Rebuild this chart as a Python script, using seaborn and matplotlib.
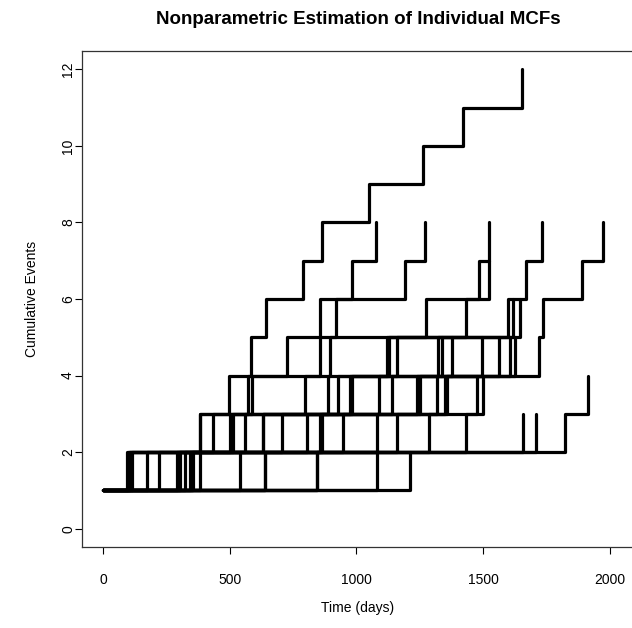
import matplotlib
matplotlib.use("Agg")
import matplotlib.pyplot as plt
import seaborn as sns
import pandas as pd

# Event times (days) for each individual; each event raises the count by 1 (start at 1)
ind_A = [95, 383, 497, 584, 643, 789, 864, 1049, 1262, 1420, 1653]
ind_B = [99, 383, 572, 726, 856, 982, 1077]
ind_C = [103, 434, 588, 856, 919, 1191, 1270]
ind_D = [107, 501, 797, 895, 1274, 1483, 1523]
ind_G = [114, 513, 888, 1120, 1432, 1523]
ind_E = [292, 631, 982, 1322, 1598, 1669, 1732]
ind_F = [383, 1160, 1357, 1720, 1736, 1890, 1972]
ind_H = [174, 560, 927, 1128, 1617]
ind_I = [221, 631, 974, 1160, 1645]
ind_J = [300, 706, 1089, 1337]
ind_K = [304, 805, 1140, 1377]
ind_L = [323, 856, 1239, 1495]
ind_M = [343, 864, 1251, 1562]
ind_N = [351, 947, 1318, 1606]
ind_O = [355, 1081, 1349, 1625]
ind_P = [540, 1286, 1475]
ind_Q = [639, 1432, 1499]
ind_R = [639, 1657]
ind_S = [844, 1708]
ind_T = [844, 1823, 1913]
ind_U = [1211]
ind_V = [1081]

individuals = {
    "A": ind_A, "B": ind_B, "C": ind_C, "D": ind_D, "G": ind_G, "E": ind_E,
    "F": ind_F, "H": ind_H, "I": ind_I, "J": ind_J, "K": ind_K, "L": ind_L,
    "M": ind_M, "N": ind_N, "O": ind_O, "P": ind_P, "Q": ind_Q, "R": ind_R,
    "S": ind_S, "T": ind_T, "U": ind_U, "V": ind_V,
}

x_ticks = [0, 500, 1000, 1500, 2000]
y_ticks = [0, 2, 4, 6, 8, 10, 12]

rows = []
for name, times in individuals.items():
    rows.append({"id": name, "time": 0, "count": 1})
    for k, t in enumerate(times):
        rows.append({"id": name, "time": t, "count": k + 2})
df = pd.DataFrame(rows)

sns.set_style("ticks")
plt.rcParams["font.family"] = ["Liberation Sans", "DejaVu Sans"]
plt.rcParams["text.color"] = "black"
plt.rcParams["axes.labelcolor"] = "black"

W, H = 632, 628
fig = plt.figure(figsize=(W / 100, H / 100), dpi=100)
left, right, top, bottom = 82, 634, 51, 547
ax = fig.add_axes([left / W, (H - bottom) / H, (right - left) / W, (bottom - top) / H])

sns.lineplot(data=df, x="time", y="count", units="id", estimator=None,
             drawstyle="steps-post", color="black", linewidth=2.3, ax=ax,
             legend=False, sort=False)

ax.set_xlim(-83, 2095)
ax.set_ylim(-0.48, 12.48)
ax.set_xticks(x_ticks)
ax.set_yticks(y_ticks)
ax.set_xticklabels([str(v) for v in x_ticks])
ax.set_yticklabels([str(v) for v in y_ticks], rotation=90, va="center")
ax.tick_params(axis="both", direction="out", length=5, width=0.8, labelsize=10,
               colors="black")
ax.tick_params(axis="x", pad=14)
ax.tick_params(axis="y", pad=0)
for s in ax.spines.values():
    s.set_visible(True)
    s.set_linewidth(0.9)
    s.set_color("#333333")
ax.spines["right"].set_visible(False)

ax.set_xlabel("Time (days)", fontsize=10, labelpad=10, color="black")
ax.set_ylabel("Cumulative Events", fontsize=10, labelpad=16, color="black")
ax.set_title("Nonparametric Estimation of Individual MCFs", fontsize=13.5,
             fontweight="bold", pad=19.5, color="black")

fig.savefig("out.png", dpi=100)
